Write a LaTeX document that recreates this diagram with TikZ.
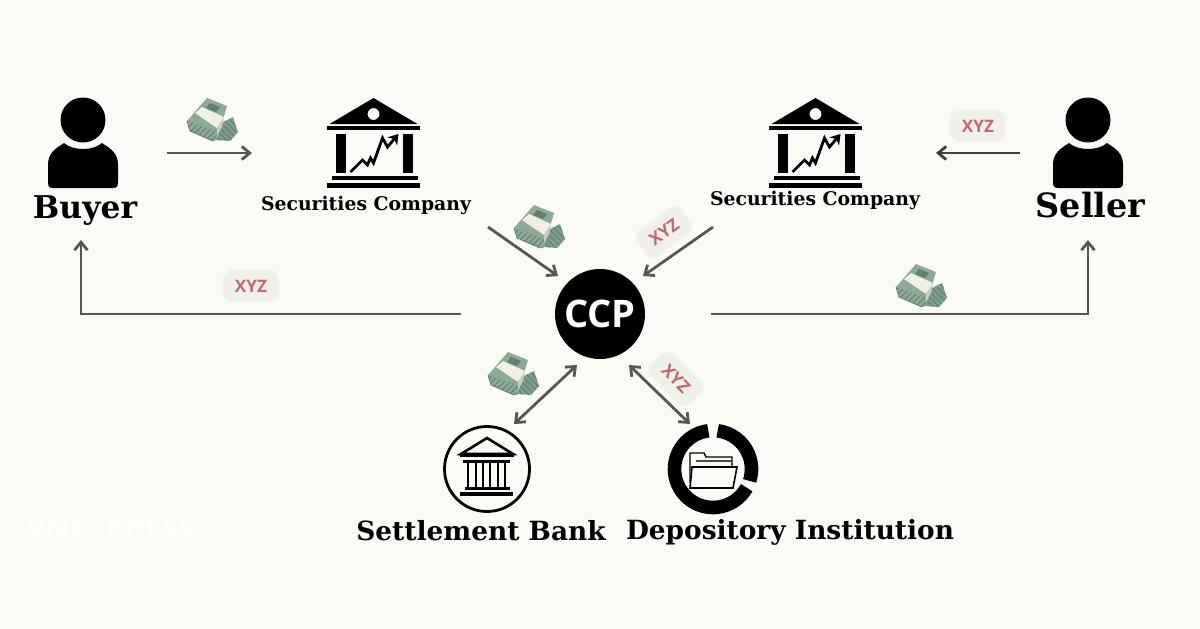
\documentclass[tikz,border=0pt]{standalone}
\usepackage{fontspec}
\setmainfont{DejaVu Serif}
\newfontfamily\iconfont{Open Sans}
\usetikzlibrary{patterns}
\usetikzlibrary{shapes.misc}
\usetikzlibrary{arrows.meta}
\definecolor{paper}{HTML}{FAFBF6}
\definecolor{flowgray}{HTML}{565654}
\definecolor{billdark}{HTML}{7F9C8D}
\definecolor{billtop}{HTML}{8EA899}
\definecolor{billline}{HTML}{5F8070}
\definecolor{billband}{HTML}{EFEFE2}
\definecolor{ticketfill}{HTML}{EFEFEC}
\definecolor{ticketedge}{HTML}{F6F6F3}
\definecolor{ticketred}{HTML}{C4686F}
\tikzset{
    flow/.style={draw=flowgray, line width=1.4pt, -{Straight Barb[length=1.4mm, width=2.3mm]}},
    dflow/.style={draw=flowgray, line width=1.4pt, {Straight Barb[length=1.4mm, width=2.3mm]}-{Straight Barb[length=1.4mm, width=2.3mm]}},
    bigname/.style={font=\fontsize{15.7}{18}\bfseries, inner sep=0pt},
    sellername/.style={font=\fontsize{16.7}{18}\bfseries, inner sep=0pt},
    midname/.style={font=\fontsize{13.2}{16}\bfseries, inner sep=0pt},
    smallname/.style={font=\fontsize{9.4}{12}\bfseries, inner sep=0pt},
    ticket/.style={chamfered rectangle, chamfered rectangle xsep=1.5pt, chamfered rectangle ysep=1.5pt,
        fill=ticketfill, draw=ticketedge, line width=0.8pt, minimum width=28pt, minimum height=16pt, inner sep=0pt,
        text=ticketred, font=\iconfont\fontsize{8.6}{10}\bfseries},
    pics/person/.style={code={
        \fill (0,-33) circle (22.5);
        \fill (-30,35) .. controls (-35,35) and (-35,32) .. (-35,28) -- (-35,12)
            .. controls (-35,0) and (-28,-4) .. (-19,-10)
            .. controls (-10,-2) and (10,-2) .. (19,-10)
            .. controls (28,-4) and (35,0) .. (35,12) -- (35,28)
            .. controls (35,32) and (35,35) .. (30,35) -- cycle;
    }},
    pics/marketbank/.style={code={
        \fill[even odd rule] (0,-45) -- (44,-19) -- (-44,-19) -- cycle (6,-29) arc[start angle=0, end angle=360, radius=6];
        \fill (-46.5,-17) rectangle (46.5,-13);
        \fill (-38,-9) rectangle (-28,30);
        \fill (29,-9) rectangle (39,30);
        \fill (-42,33) rectangle (44,37);
        \fill (-46.5,40) rectangle (46.5,45);
        \draw[line width=1.4pt, -{Stealth[length=1.7mm, width=2.2mm]}] (-23,29) -- (-11,17) -- (-6,22) -- (-3,15) -- (0,20) -- (9,-5) -- (14,4) -- (25,-9);
    }},
    pics/money/.style={code={
        \fill[billdark] (10,2) -- (20,-3) -- (25,12) -- (17,21) -- (3,20) -- cycle;
        \fill[pattern=north west lines, pattern color=billline] (10,2) -- (20,-3) -- (25,12) -- (17,21) -- (3,20) -- cycle;
        \fill[billtop] (-6,-22) -- (14,-14) -- (4,20) -- (0,21) -- (-23,11) -- (-26,1) -- cycle;
        \fill[pattern=north east lines, pattern color=billline] (-26,1) -- (4,12) -- (3,21) -- (0,21) -- (-23,11) -- cycle;
        \fill[billline] (-3,-17) -- (7,-13) -- (3,-8) -- (-7,-12) -- cycle;
        \fill[billband] (-18,-7) -- (-11,-13) -- (11,-3) -- (4,8) -- cycle;
        \fill[billband!85!black] (4,8) -- (11,-3) -- (9,7) -- (4,16) -- cycle;
        \draw[billline, line width=0.4pt] (-26,1) -- (-23,11) -- (0,21);
    }}
}
\begin{document}
\begin{tikzpicture}[x=0.5pt, y=-0.5pt]
    \useasboundingbox[fill=paper] (0,0) rectangle (1200,628);
    % faint mark
    \node[text=white, opacity=0.6, xscale=1.3, font=\iconfont\fontsize{11.5}{12}\bfseries, inner sep=0pt] (mark) at (110,527) {VNEXPRESS};

    % people
    \pic at (83,153) {person};
    \pic at (1088,153) {person};
    \node[bigname] (buyer) at (85,211) {Buyer};
    \node[sellername] (seller) at (1090.5,205) {Seller};

    % securities companies
    \pic at (373.5,143) {marketbank};
    \pic at (815.5,143) {marketbank};
    \node[smallname] (leftco) at (366,205) {Securities Company};
    \node[smallname] (rightco) at (815,200) {Securities Company};

    % centre
    \node[circle, fill=black, text=white, minimum size=45pt, inner sep=0pt, font=\iconfont\fontsize{19}{20}\bfseries] (ccp) at (600,314) {CCP};

    % settlement bank
    \draw[line width=1.4pt] (487,469) circle (42.5);
    \draw[line width=1.3pt, line join=miter] (487,438) -- (513,454) -- (461,454) -- cycle;
    \draw[line width=1.5pt] (460,455) -- (514,455);
    \draw[line width=1.5pt] (463,461) -- (510,461);
    \foreach \colx in {468,476,483,490,498,505}
        \draw[line width=1.4pt] (\colx,461) -- (\colx,488);
    \draw[line width=1.5pt] (465,488) -- (510,488);
    \draw[line width=1.7pt] (460,494) -- (513,494);
    \node[midname] (bank) at (481,531) {Settlement Bank};

    % depository institution
    \draw[line width=6.8pt] (713,469) ++(-97:38.5) arc[start angle=-97, end angle=-331, radius=38.5];
    \draw[line width=6.8pt] (713,469) ++(-83:38.5) arc[start angle=-83, end angle=18, radius=38.5];
    \draw[line width=0.7pt, fill=paper] (690,482) -- (690,453) -- (704,453) -- (706,457) -- (732,457) -- (732,482) -- cycle;
    \draw[line width=1.1pt, draw=black!70] (696,461) -- (732,461) -- (732,470);
    \draw[line width=0.8pt, fill=paper] (692,467) -- (737,467) -- (733,488) -- (690,488) -- cycle;
    \node[midname] (depository) at (790,532) {Depository Institution};

    % ends of the connectors
    \coordinate (buyerout) at (167,153);
    \coordinate (leftcoin) at (252,153);
    \coordinate (sellerout) at (1020,153);
    \coordinate (rightcoin) at (936,153);
    \coordinate (leftcoout) at (488,227);
    \coordinate (ccpleft) at (558,276);
    \coordinate (rightcoout) at (713,227);
    \coordinate (ccpright) at (643,276);
    \coordinate (ccpwest) at (461,314);
    \coordinate (buyerbend) at (81,314);
    \coordinate (buyerin) at (81,240);
    \coordinate (ccpeast) at (711,314);
    \coordinate (sellerbend) at (1088,314);
    \coordinate (sellerin) at (1088,240);
    \coordinate (ccpsw) at (577,365);
    \coordinate (bankin) at (514,424);
    \coordinate (ccpse) at (629,365);
    \coordinate (depoin) at (690,424);

    \draw[flow] (buyerout) -- (leftcoin);
    \draw[flow, draw=black!75] (sellerout) -- (rightcoin);
    \draw[flow] (leftcoout) -- (ccpleft);
    \draw[flow] (rightcoout) -- (ccpright);
    \draw[flow] (ccpwest) -- (buyerbend) -- (buyerin);
    \draw[flow] (ccpeast) -- (sellerbend) -- (sellerin);
    \draw[dflow] (ccpsw) -- (bankin);
    \draw[dflow] (ccpse) -- (depoin);

    % what moves along them
    \pic at (213,120) {money};
    \pic at (540,227) {money};
    \pic at (922,286) {money};
    \pic at (514,374) {money};
    \node[ticket] (xyzbuyer) at (251,286) {XYZ};
    \node[ticket] (xyzseller) at (978,126) {XYZ};
    \node[ticket, rotate=36] (xyzright) at (664,232) {XYZ};
    \node[ticket, rotate=-46] (xyzdepo) at (676,379) {XYZ};
\end{tikzpicture}
\end{document}
